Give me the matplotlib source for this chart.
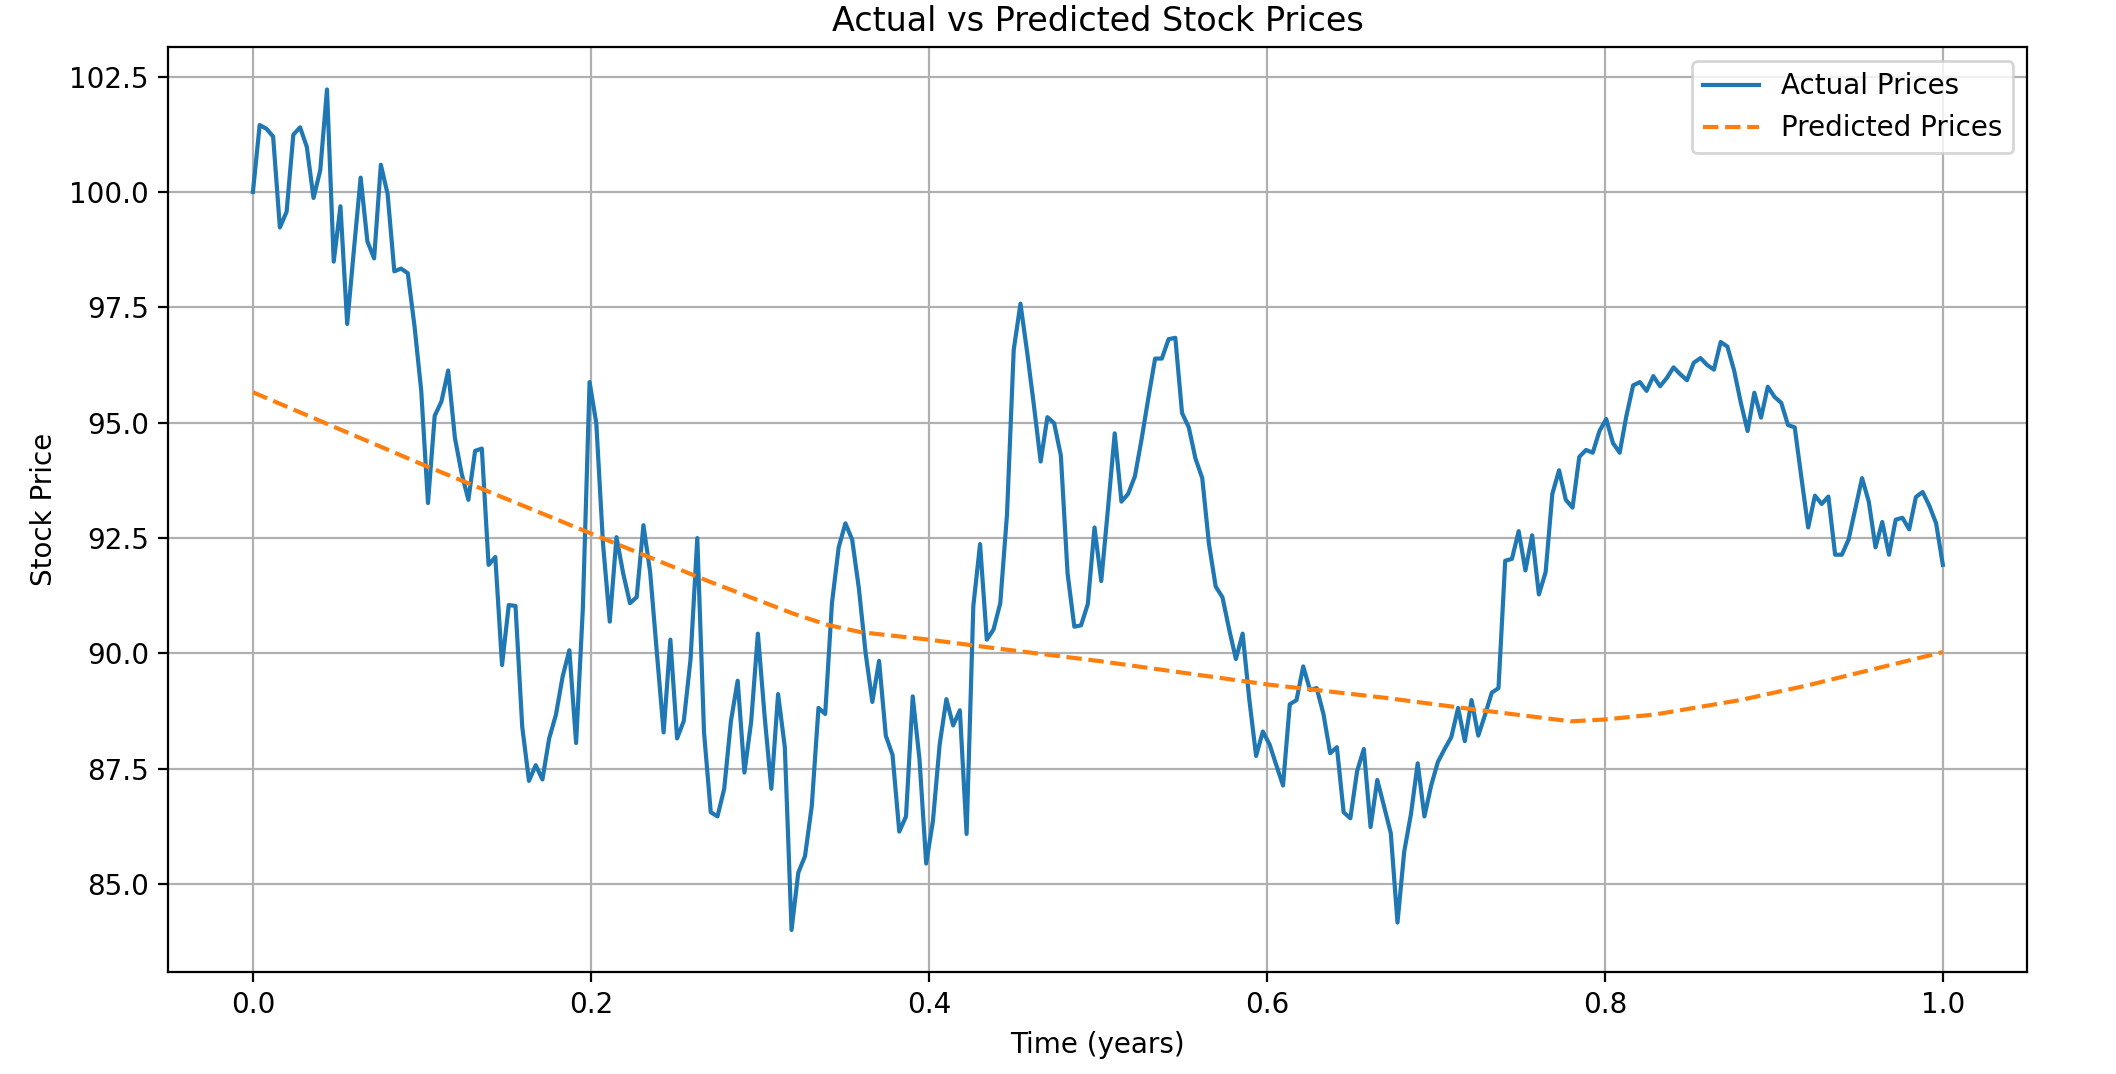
import numpy as np
import matplotlib
matplotlib.use("Agg")
import matplotlib.pyplot as plt

#- Actual prices, one per trading day
actual_prices = [
    100.00, 101.45, 101.37, 101.20, 99.23, 99.57, 101.24, 101.40, 100.98, 99.87,
    100.47, 102.22, 98.49, 99.69, 97.14, 98.75, 100.31, 98.93, 98.56, 100.59,
    99.96, 98.28, 98.34, 98.24, 97.09, 95.69, 93.26, 95.15, 95.46, 96.13,
    94.67, 93.90, 93.33, 94.39, 94.44, 91.92, 92.09, 89.75, 91.05, 91.03,
    88.41, 87.24, 87.58, 87.27, 88.16, 88.67, 89.50, 90.07, 88.06, 90.97,
    95.88, 94.99, 92.37, 90.69, 92.52, 91.73, 91.09, 91.22, 92.78, 91.76,
    90.01, 88.29, 90.30, 88.16, 88.54, 89.88, 92.50, 88.29, 86.56, 86.47,
    87.07, 88.54, 89.41, 87.42, 88.52, 90.43, 88.64, 87.07, 89.12, 87.97,
    84.01, 85.25, 85.61, 86.69, 88.82, 88.69, 91.09, 92.30, 92.82, 92.47,
    91.41, 90.01, 88.95, 89.84, 88.22, 87.80, 86.14, 86.47, 89.07, 87.71,
    85.45, 86.37, 88.03, 89.01, 88.44, 88.77, 86.09, 91.03, 92.37, 90.30,
    90.52, 91.09, 93.01, 96.58, 97.58, 96.52, 95.37, 94.16, 95.12, 94.99,
    94.29, 91.73, 90.58, 90.61, 91.07, 92.73, 91.57, 93.14, 94.77, 93.29,
    93.46, 93.84, 94.65, 95.54, 96.39, 96.39, 96.81, 96.84, 95.21, 94.90,
    94.22, 93.80, 92.37, 91.45, 91.22, 90.52, 89.88, 90.43, 88.99, 87.78,
    88.31, 88.03, 87.58, 87.14, 88.90, 88.99, 89.72, 89.21, 89.25, 88.69,
    87.84, 87.97, 86.56, 86.43, 87.45, 87.93, 86.24, 87.26, 86.69, 86.11,
    84.17, 85.71, 86.52, 87.62, 86.47, 87.14, 87.65, 87.93, 88.19, 88.82,
    88.10, 88.99, 88.22, 88.67, 89.15, 89.25, 92.01, 92.05, 92.65, 91.80,
    92.56, 91.28, 91.76, 93.46, 93.97, 93.33, 93.16, 94.26, 94.41, 94.35,
    94.82, 95.08, 94.56, 94.35, 95.15, 95.81, 95.88, 95.69, 96.01, 95.79,
    95.97, 96.20, 96.05, 95.92, 96.30, 96.40, 96.25, 96.15, 96.75, 96.65,
    96.13, 95.43, 94.82, 95.65, 95.11, 95.78, 95.56, 95.43, 94.95, 94.90,
    93.80, 92.73, 93.42, 93.24, 93.40, 92.14, 92.14, 92.47, 93.14, 93.80,
    93.29, 92.30, 92.85, 92.14, 92.90, 92.94, 92.69, 93.39, 93.50, 93.20,
    92.82, 91.92,
]

#- Predicted prices, sampled along the dashed curve
pred_time = [0.00, 0.05, 0.10, 0.16, 0.20, 0.27, 0.32, 0.34, 0.36, 0.40,
             0.44, 0.50, 0.60, 0.67, 0.72, 0.78, 0.80, 0.83, 0.88, 0.92,
             0.96, 1.00]
pred_prices = [95.66, 94.88, 94.10, 93.20, 92.60, 91.56, 90.86, 90.62, 90.46, 90.30,
               90.11, 89.84, 89.33, 89.04, 88.80, 88.53, 88.57, 88.68, 88.99, 89.31,
               89.67, 90.03]

# one sample per trading day over one year
time_years = np.linspace(0, 1, len(actual_prices))

fig = plt.figure(figsize=(10.58, 5.37), dpi=200)
ax = fig.add_axes([0.0796, 0.095, 0.8785, 0.8608])

ax.plot(time_years, actual_prices, label='Actual Prices')
ax.plot(pred_time, pred_prices, label='Predicted Prices', linestyle='--')

ax.set_title('Actual vs Predicted Stock Prices')
ax.set_xlabel('Time (years)')
ax.set_ylabel('Stock Price')
ax.legend()
ax.grid(True)

fig.savefig('out.png', dpi=200)
